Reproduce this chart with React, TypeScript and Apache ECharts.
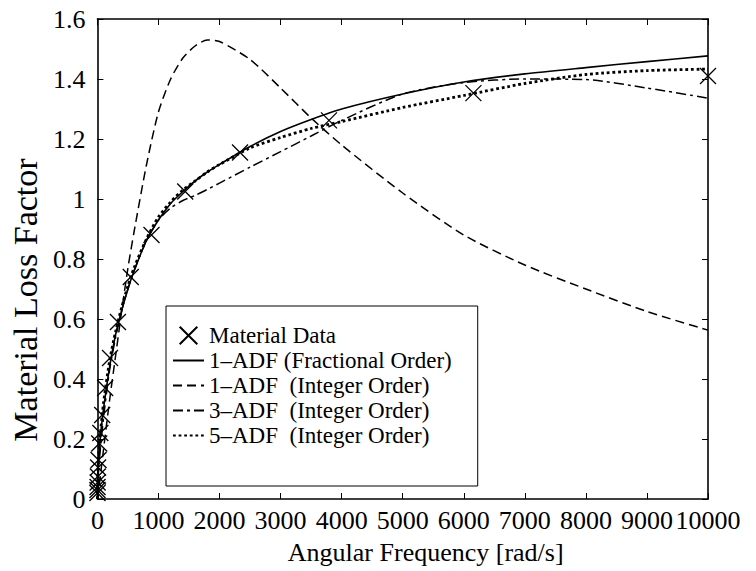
import React, { useEffect, useRef } from "react";
import * as echarts from "echarts";

// ---- data ----
const materialFreq = [1, 1.62, 2.64, 4.28, 6.95, 11.3, 18.3, 29.8, 48.3, 78.5, 127, 207, 336, 546, 886, 1438, 2336, 3793, 6158, 10000];
const materialLoss = [0.02, 0.03, 0.04, 0.055, 0.075, 0.105, 0.13, 0.185, 0.22, 0.28, 0.37, 0.47, 0.59, 0.74, 0.88, 1.025, 1.155, 1.262, 1.353, 1.41];

const curveFreq = [0, 5, 20, 50, 100, 200, 300, 400, 500, 600, 800, 1000, 1200, 1400, 1600, 1800, 2000, 2500, 3000, 3500, 4000, 5000, 6000, 7000, 8000, 9000, 10000];
const adf1Fractional = [0, 0.08, 0.14, 0.21, 0.30, 0.44, 0.55, 0.63, 0.70, 0.76, 0.86, 0.93, 0.985, 1.025, 1.06, 1.09, 1.115, 1.175, 1.225, 1.265, 1.30, 1.35, 1.39, 1.417, 1.438, 1.458, 1.477];
const adf1Integer = [0, 0.01, 0.03, 0.08, 0.165, 0.33, 0.48, 0.63, 0.77, 0.89, 1.11, 1.29, 1.40, 1.47, 1.51, 1.53, 1.525, 1.465, 1.37, 1.27, 1.18, 1.02, 0.88, 0.78, 0.70, 0.625, 0.563];
const adf3Integer = [0, 0.04, 0.10, 0.17, 0.27, 0.43, 0.54, 0.63, 0.70, 0.76, 0.86, 0.93, 0.97, 0.995, 1.012, 1.032, 1.053, 1.106, 1.158, 1.21, 1.262, 1.35, 1.388, 1.40, 1.398, 1.37, 1.336];
const adf5Integer = [0, 0.07, 0.14, 0.22, 0.32, 0.46, 0.56, 0.64, 0.71, 0.77, 0.865, 0.94, 0.99, 1.03, 1.06, 1.09, 1.115, 1.17, 1.205, 1.235, 1.258, 1.305, 1.345, 1.385, 1.415, 1.428, 1.433];

const seriesNames = [
  "Material Data",
  "1\u2013ADF (Fractional Order)",
  "1\u2013ADF  (Integer Order)",
  "3\u2013ADF  (Integer Order)",
  "5\u2013ADF  (Integer Order)",
];

const xTitle = "Angular Frequency [rad/s]";
const yTitle = "Material Loss Factor";

const FONT = "'Liberation Serif', 'Times New Roman', serif";

function pairs(xs: number[], ys: number[]) {
  return xs.map((x, i) => [x, ys[i]]);
}

export default function App() {
  const ref = useRef<HTMLDivElement>(null);

  useEffect(() => {
    if (!ref.current) return;
    const chart = echarts.init(ref.current, undefined, { renderer: "svg" });

    const axisLine = { show: true, onZero: false, lineStyle: { color: "#000", width: 1.6 } };
    const axisTick = { show: true, inside: true, length: 6, lineStyle: { color: "#000", width: 1 } };

    const lineBase = {
      type: "line" as const,
      symbol: "none",
      smooth: 0.25,
      color: "#000",
    };

    chart.setOption({
      animation: false,
      backgroundColor: "#fff",
      textStyle: { fontFamily: FONT },
      grid: { left: 85, right: 48, top: 19, bottom: 72, containLabel: false },
      xAxis: [
        {
          type: "value",
          min: 0,
          max: 10000,
          interval: 1000,
          position: "bottom",
          axisLine,
          axisTick,
          splitLine: { show: false },
          axisLabel: {
            color: "#000",
            fontFamily: FONT,
            fontSize: 26,
            margin: 8,
            formatter: (v: number) => String(v),
          },
          name: xTitle,
          nameLocation: "middle",
          nameGap: 40,
          nameTextStyle: { color: "#000", fontFamily: FONT, fontSize: 26, padding: [0, 0, 0, 46] },
        },
        {
          type: "value",
          min: 0,
          max: 10000,
          interval: 1000,
          position: "top",
          axisLine,
          axisTick,
          splitLine: { show: false },
          axisLabel: { show: false },
        },
      ],
      yAxis: [
        {
          type: "value",
          min: 0,
          max: 1.6,
          interval: 0.2,
          position: "left",
          axisLine,
          axisTick,
          splitLine: { show: false },
          axisLabel: {
            color: "#000",
            fontFamily: FONT,
            fontSize: 26,
            margin: 12,
            formatter: (v: number) => String(Number(v.toFixed(1))),
          },
          name: yTitle,
          nameLocation: "middle",
          nameRotate: 90,
          nameGap: 50,
          nameTextStyle: { color: "#000", fontFamily: FONT, fontSize: 34, padding: [0, 82, 0, 0] },
        },
        {
          type: "value",
          min: 0,
          max: 1.6,
          interval: 0.2,
          position: "right",
          axisLine,
          axisTick,
          splitLine: { show: false },
          axisLabel: { show: false },
        },
      ],
      legend: {
        orient: "vertical",
        left: 166,
        top: 306,
        padding: [18, 26, 39, 6],
        itemWidth: 31,
        itemHeight: 22,
        itemGap: 2,
        backgroundColor: "#fff",
        borderColor: "#000",
        borderWidth: 1,
        borderRadius: 0,
        selectedMode: false,
        textStyle: { color: "#000", fontFamily: FONT, fontSize: 23 },
        data: [
          { name: seriesNames[0] },
          { name: seriesNames[1], itemStyle: { opacity: 0 } },
          { name: seriesNames[2], itemStyle: { opacity: 0 } },
          { name: seriesNames[3], itemStyle: { opacity: 0 } },
          { name: seriesNames[4], itemStyle: { opacity: 0 } },
        ],
      },
      series: [
        {
          ...lineBase,
          name: seriesNames[1],
          data: pairs(curveFreq, adf1Fractional),
          lineStyle: { color: "#000", width: 1.6, type: "solid" },
          z: 3,
        },
        {
          ...lineBase,
          name: seriesNames[2],
          data: pairs(curveFreq, adf1Integer),
          lineStyle: { color: "#000", width: 1.5, type: [9, 5] },
          z: 3,
        },
        {
          ...lineBase,
          name: seriesNames[3],
          data: pairs(curveFreq, adf3Integer),
          lineStyle: { color: "#000", width: 1.5, type: [10, 4, 3, 4] },
          z: 3,
        },
        {
          ...lineBase,
          name: seriesNames[4],
          data: pairs(curveFreq, adf5Integer),
          lineStyle: { color: "#000", width: 2.8, type: [2.8, 2.8] },
          z: 3,
        },
        {
          type: "line",
          name: seriesNames[0],
          data: pairs(materialFreq, materialLoss),
          symbol: "path://M0,0L10,10M10,0L0,10",
          symbolSize: 16,
          showSymbol: true,
          showAllSymbol: true,
          color: "#000",
          itemStyle: { color: "#000", borderColor: "#000", borderWidth: 1.3 },
          lineStyle: { width: 0, opacity: 0 },
          z: 4,
        },
      ],
    });

    return () => chart.dispose();
  }, []);

  return (
    <div
      ref={ref}
      style={{ position: "fixed", left: 0, top: 0, width: 756, height: 571, background: "#fff" }}
    />
  );
}
